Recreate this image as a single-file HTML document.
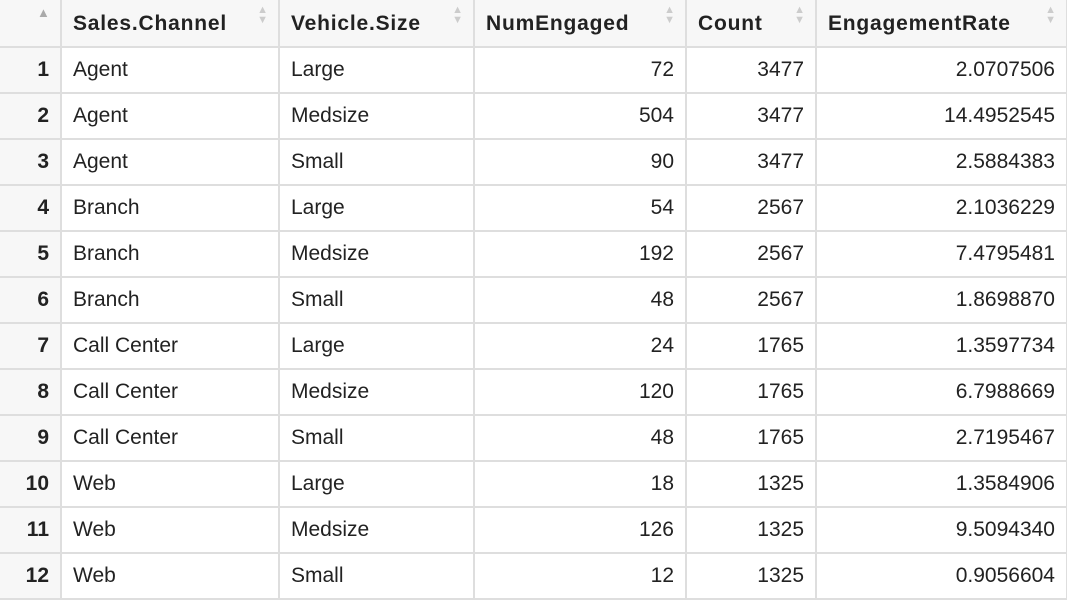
<!DOCTYPE html>
<html><head><meta charset="utf-8"><style>
body{margin:0;width:1067px;height:592px;overflow:hidden;background:#fff;font-family:"Liberation Sans",sans-serif;}
table{border-collapse:collapse;table-layout:fixed;width:1067px;}
td,th{height:44px;border:2px solid #dedede;padding:0 11px;font-size:21px;color:#222;white-space:nowrap;overflow:hidden;}
th{height:45px;background:#f7f7f7;text-align:left;font-weight:bold;position:relative;border-top:none;letter-spacing:0.8px;padding-top:1px;}
tr td:first-child,tr th:first-child{background:#f7f7f7;text-align:right;font-weight:bold;border-left:none;}
td.n{text-align:right;}
th .s{position:absolute;right:10px;top:5px;font-size:11px;color:#ccc;line-height:10px;letter-spacing:0;}
th:first-child .s{right:auto;left:37px;top:8px;font-size:13px;color:#aaa;}
</style></head><body>
<table>
<colgroup><col style="width:61px"><col style="width:218px"><col style="width:195px"><col style="width:212px"><col style="width:130px"><col style="width:251px"></colgroup>
<thead><tr>
<th><span class="s">▲</span></th>
<th>Sales.Channel<span class="s">▲<br>▼</span></th>
<th>Vehicle.Size<span class="s">▲<br>▼</span></th>
<th>NumEngaged<span class="s">▲<br>▼</span></th>
<th>Count<span class="s">▲<br>▼</span></th>
<th>EngagementRate<span class="s">▲<br>▼</span></th>
</tr></thead>
<tbody>
<tr><td>1</td><td>Agent</td><td>Large</td><td class="n">72</td><td class="n">3477</td><td class="n">2.0707506</td></tr>
<tr><td>2</td><td>Agent</td><td>Medsize</td><td class="n">504</td><td class="n">3477</td><td class="n">14.4952545</td></tr>
<tr><td>3</td><td>Agent</td><td>Small</td><td class="n">90</td><td class="n">3477</td><td class="n">2.5884383</td></tr>
<tr><td>4</td><td>Branch</td><td>Large</td><td class="n">54</td><td class="n">2567</td><td class="n">2.1036229</td></tr>
<tr><td>5</td><td>Branch</td><td>Medsize</td><td class="n">192</td><td class="n">2567</td><td class="n">7.4795481</td></tr>
<tr><td>6</td><td>Branch</td><td>Small</td><td class="n">48</td><td class="n">2567</td><td class="n">1.8698870</td></tr>
<tr><td>7</td><td>Call Center</td><td>Large</td><td class="n">24</td><td class="n">1765</td><td class="n">1.3597734</td></tr>
<tr><td>8</td><td>Call Center</td><td>Medsize</td><td class="n">120</td><td class="n">1765</td><td class="n">6.7988669</td></tr>
<tr><td>9</td><td>Call Center</td><td>Small</td><td class="n">48</td><td class="n">1765</td><td class="n">2.7195467</td></tr>
<tr><td>10</td><td>Web</td><td>Large</td><td class="n">18</td><td class="n">1325</td><td class="n">1.3584906</td></tr>
<tr><td>11</td><td>Web</td><td>Medsize</td><td class="n">126</td><td class="n">1325</td><td class="n">9.5094340</td></tr>
<tr><td>12</td><td>Web</td><td>Small</td><td class="n">12</td><td class="n">1325</td><td class="n">0.9056604</td></tr>
</tbody></table>
</body></html>
